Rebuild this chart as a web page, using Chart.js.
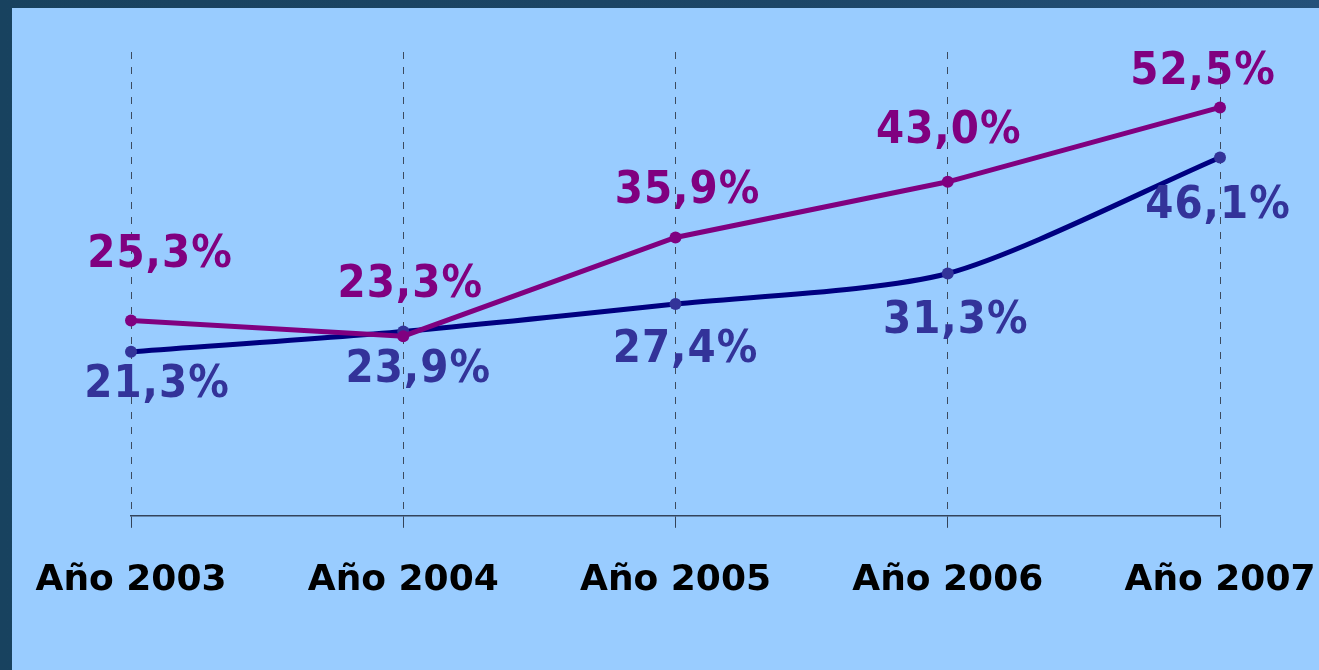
<!DOCTYPE html>
<html>
<head>
<meta charset="utf-8">
<script src="https://cdn.jsdelivr.net/npm/chart.js@4/dist/chart.umd.min.js"></script>
<style>
  html, body { margin: 0; padding: 0; }
  body {
    width: 1319px; height: 670px; overflow: hidden;
    background: linear-gradient(90deg, #18425f 0%, #1c4668 60%, #24517a 100%);
    position: relative;
  }
  #wrap {
    position: absolute; left: 12px; top: 8px;
    width: 1307px; height: 662px;
    background: #99ccff;
  }
</style>
</head>
<body>
<div id="wrap"><canvas id="chart" width="1307" height="662"></canvas></div>
<script>
// datos
var years = ['Año 2003', 'Año 2004', 'Año 2005', 'Año 2006', 'Año 2007'];
var serieMorada = [25.3, 23.3, 35.9, 43.0, 52.5];
var serieAzul = [21.3, 23.9, 27.4, 31.3, 46.1];

// desplazamiento de cada etiqueta respecto a su punto (px)
var offMorada = [[29, -65], [7, -51], [12, -46], [1, -51], [-17, -35]];
var offAzul = [[26, 33], [15, 39], [10, 46], [8, 48], [-2, 49]];

function fmt(v) {
    return v.toFixed(1).replace('.', ',') + '%';
}

// dibuja los valores junto a cada punto
var etiquetas = {
    id: 'etiquetas',
    afterDatasetsDraw: function (chart) {
        var ctx = chart.ctx;
        ctx.save();
        ctx.font = 'bold 45px "DejaVu Sans Condensed", "DejaVu Sans", sans-serif';
        ctx.textAlign = 'center';
        ctx.textBaseline = 'middle';
        ctx.letterSpacing = '1px';
        chart.data.datasets.forEach(function (ds, i) {
            var meta = chart.getDatasetMeta(i);
            var offs = i === 0 ? offMorada : offAzul;
            meta.data.forEach(function (pt, j) {
                ctx.fillStyle = ds.labelColor;
                ctx.fillText(fmt(ds.data[j]), pt.x + offs[j][0], pt.y + offs[j][1]);
            });
        });
        ctx.restore();
    }
};

var ctx = document.getElementById('chart').getContext('2d');
var chart = new Chart(ctx, {
    type: 'line',
    data: {
        labels: years,
        datasets: [{
            label: 'morada',
            data: serieMorada,
            borderColor: '#800080',
            backgroundColor: '#800080',
            pointBackgroundColor: '#800080',
            labelColor: '#800080',
            borderWidth: 5,
            pointRadius: 6,
            pointBorderWidth: 0,
            tension: 0
        }, {
            label: 'azul',
            data: serieAzul,
            borderColor: '#000080',
            backgroundColor: '#333399',
            pointBackgroundColor: '#333399',
            labelColor: '#333399',
            borderWidth: 5,
            pointRadius: 6,
            pointBorderWidth: 0,
            tension: 0.25
        }]
    },
    options: {
        responsive: false,
        animation: false,
        layout: {
            padding: { left: 119, right: 99, top: 44, bottom: 37 }
        },
        scales: {
            x: {
                offset: false,
                afterFit: function (s) {
                    // el margen lateral lo da layout.padding
                    s.paddingLeft = 0;
                    s.paddingRight = 0;
                },
                grid: {
                    color: '#3c4a5e',
                    lineWidth: 1,
                    tickLength: 12,
                    tickColor: '#33435a',
                    tickBorderDash: []
                },
                border: {
                    display: true,
                    color: '#33435a',
                    width: 1.5,
                    dash: [7, 8]
                },
                ticks: {
                    color: '#000000',
                    padding: 31,
                    font: { family: '"DejaVu Sans", sans-serif', size: 36, weight: 'bold' }
                }
            },
            y: {
                display: false,
                min: 0.37,
                max: 59.57
            }
        },
        plugins: {
            legend: { display: false },
            tooltip: { enabled: false }
        }
    },
    plugins: [etiquetas]
});
</script>
</body>
</html>
